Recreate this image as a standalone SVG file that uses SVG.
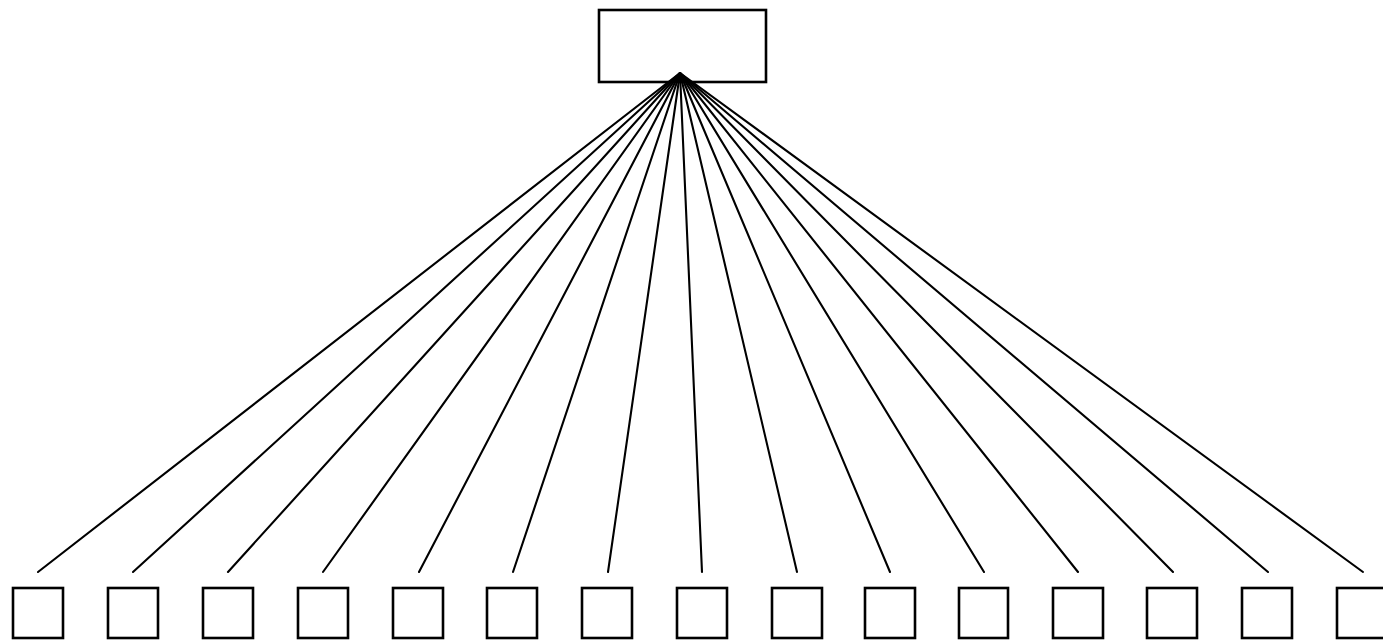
<svg xmlns="http://www.w3.org/2000/svg" width="1383" height="642" viewBox="0 0 1383 642">
<style>
.box{fill:#fff;stroke:#000;stroke-width:2.6}
.ln{stroke:#000;stroke-width:2.1;stroke-linecap:round}
</style>
<rect width="1383" height="642" fill="#fff"/>
<g id="root"><rect class="box" x="599" y="10" width="167" height="72"/></g>
<g id="connectors">
<line class="ln" x1="680" y1="73" x2="38" y2="572"/>
<line class="ln" x1="680" y1="73" x2="133" y2="572"/>
<line class="ln" x1="680" y1="73" x2="228" y2="572"/>
<line class="ln" x1="680" y1="73" x2="323" y2="572"/>
<line class="ln" x1="680" y1="73" x2="419" y2="572"/>
<line class="ln" x1="680" y1="73" x2="513" y2="572"/>
<line class="ln" x1="680" y1="73" x2="608" y2="572"/>
<line class="ln" x1="680" y1="73" x2="702" y2="572"/>
<line class="ln" x1="680" y1="73" x2="797" y2="572"/>
<line class="ln" x1="680" y1="73" x2="890" y2="572"/>
<line class="ln" x1="680" y1="73" x2="984" y2="572"/>
<line class="ln" x1="680" y1="73" x2="1078" y2="572"/>
<line class="ln" x1="680" y1="73" x2="1173" y2="572"/>
<line class="ln" x1="680" y1="73" x2="1268" y2="572"/>
<line class="ln" x1="680" y1="73" x2="1363" y2="572"/>
</g>
<g id="n1"><rect class="box" x="13" y="588" width="50" height="50"/></g>
<g id="n2"><rect class="box" x="108" y="588" width="50" height="50"/></g>
<g id="n3"><rect class="box" x="203" y="588" width="50" height="50"/></g>
<g id="n4"><rect class="box" x="298" y="588" width="50" height="50"/></g>
<g id="n5"><rect class="box" x="393" y="588" width="50" height="50"/></g>
<g id="n6"><rect class="box" x="487" y="588" width="50" height="50"/></g>
<g id="n7"><rect class="box" x="582" y="588" width="50" height="50"/></g>
<g id="n8"><rect class="box" x="677" y="588" width="50" height="50"/></g>
<g id="n9"><rect class="box" x="772" y="588" width="50" height="50"/></g>
<g id="n10"><rect class="box" x="865" y="588" width="50" height="50"/></g>
<g id="n11"><rect class="box" x="959" y="588" width="49" height="50"/></g>
<g id="n12"><rect class="box" x="1053" y="588" width="50" height="50"/></g>
<g id="n13"><rect class="box" x="1147" y="588" width="50" height="50"/></g>
<g id="n14"><rect class="box" x="1242" y="588" width="50" height="50"/></g>
<g id="n15"><rect class="box" x="1337" y="588" width="50" height="50"/></g>
</svg>
